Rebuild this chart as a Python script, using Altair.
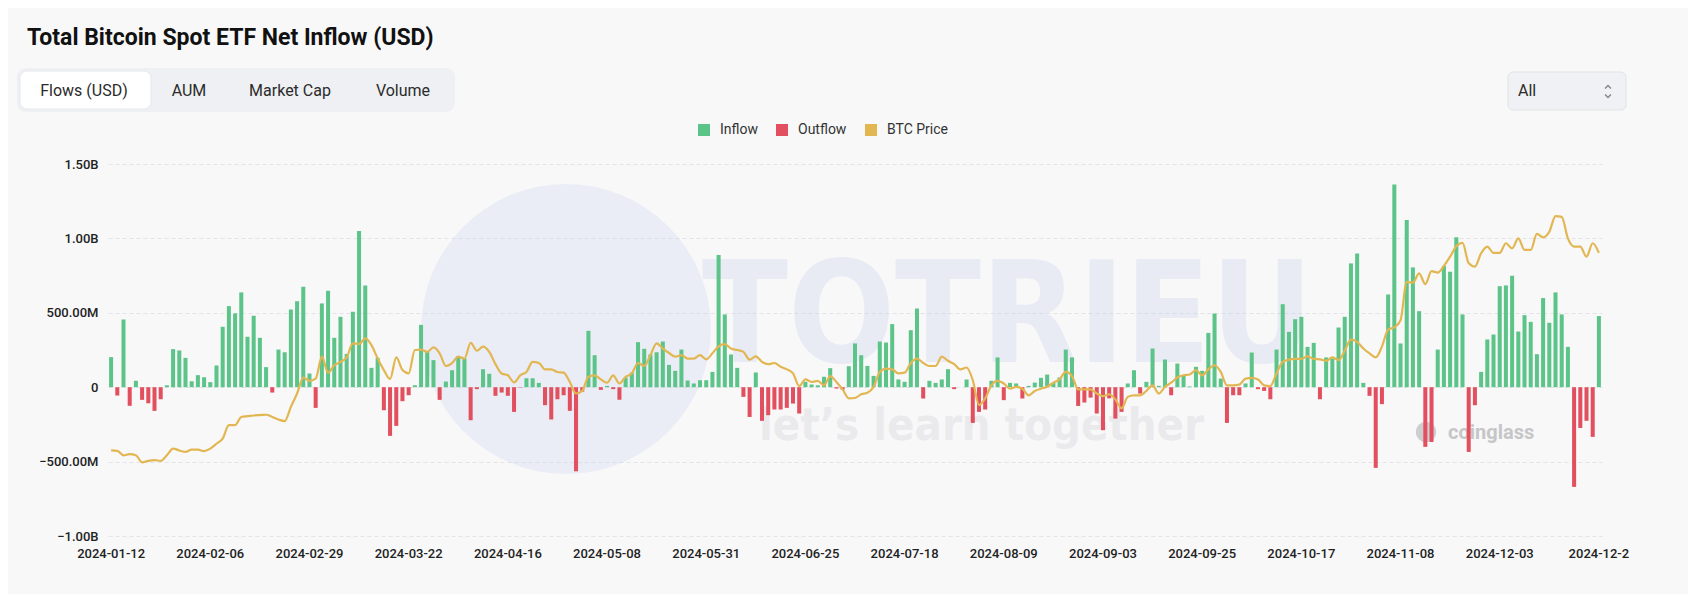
import altair as alt
import numpy as np
import pandas as pd

# ---------------- data ----------------
# daily net flow, million USD, one value per ETF trading day 2024-01-12 .. 2024-12-26
flows_musd = [
    202, -56, 455, -125, 43, -85, -108, -159, -81, 13,
    256, 247, 197, 40, 81, 67, 34, 146, 406, 545,
    496, 637, 339, 480, 332, 135, -36, 253, 235, 522,
    578, 675, 92, -139, 563, 648, 332, 473, 224, 507,
    1049, 684, 130, 197, -155, -327, -260, -94, -54, 13,
    419, 238, 182, -85, 38, 114, 209, 193, -222, -13,
    121, 90, -58, -36, -58, -166, -3, 60, 60, 29,
    -121, -217, -81, -54, -159, -565, -30, 379, 215, -18,
    9, -13, -85, 65, 99, 303, 258, 220, 235, 307,
    150, 110, 253, 45, 25, 47, 47, 103, 888, 489,
    220, 130, -65, -200, 99, -226, -188, -150, -150, -139,
    -110, -177, 36, 18, 13, 70, 128, -9, -16, 141,
    294, 215, 143, 76, 307, 300, 424, 52, 36, 383,
    529, -76, 43, 29, 52, 121, -13, 0, 52, -240,
    -166, -150, 43, 200, -87, 29, 25, -76, 9, 31,
    63, 85, 29, 65, 253, 200, -126, -103, -70, -177,
    -289, -75, -211, -166, 25, 114, -43, 36, 260, 9,
    186, -54, 159, 81, 5, 137, 110, 365, 495, 58,
    -240, -54, -54, 25, 233, -13, -25, -81, 253, 558,
    372, 457, 473, 271, 298, -81, 200, 193, 401, 473,
    832, 899, 29, -58, -542, -114, 623, 1363, 294, 1123,
    805, 511, -401, -368, 253, 816, 776, 1007, 489, -435,
    -121, 103, 321, 354, 679, 684, 749, 374, 484, 439,
    222, 599, 433, 637, 489, 271, -670, -274, -226, -334,
    478,
]

# BTC price, thousand USD, same days
btc_price_k = [
    43.0, 42.9, 41.7, 42.0, 41.7, 39.8, 40.2, 40.4, 40.2, 41.7,
    43.5, 43.0, 42.6, 43.2, 43.2, 42.8, 43.5, 44.8, 46.2, 49.8,
    49.8, 52.0, 52.2, 52.4, 52.5, 52.6, 52.0, 51.3, 50.9, 54.7,
    58.3, 62.6, 61.7, 62.3, 68.2, 63.9, 65.9, 66.8, 68.0, 71.8,
    71.6, 73.1, 71.3, 67.7, 64.6, 62.2, 68.0, 64.6, 63.7, 70.0,
    70.1, 69.5, 70.7, 69.1, 65.7, 66.5, 68.2, 67.7, 71.9, 69.8,
    70.9, 69.5, 66.2, 63.7, 63.2, 61.3, 63.2, 64.1, 66.8, 66.5,
    64.8, 64.8, 64.1, 63.9, 61.4, 58.3, 59.0, 62.8, 63.2, 62.1,
    61.2, 63.2, 61.0, 62.8, 63.7, 66.5, 65.7, 68.6, 71.8, 70.4,
    69.2, 68.2, 68.6, 67.7, 67.7, 68.6, 67.5, 69.1, 71.0, 71.6,
    70.4, 70.0, 69.5, 67.4, 68.3, 66.8, 66.2, 66.5, 65.5, 64.8,
    63.7, 60.3, 62.1, 61.4, 61.7, 60.5, 63.0, 61.4, 59.4, 57.0,
    57.1, 58.1, 58.5, 60.1, 64.1, 65.0, 64.8, 63.7, 63.9, 66.5,
    67.7, 66.5, 65.7, 65.7, 68.2, 67.1, 66.2, 64.8, 65.3, 61.9,
    55.2, 57.0, 60.5, 61.7, 61.0, 59.6, 60.1, 59.6, 57.8, 59.0,
    59.6, 60.1, 61.2, 62.1, 64.1, 63.0, 59.4, 59.4, 59.4, 58.3,
    57.6, 58.1, 56.7, 54.3, 57.4, 57.8, 57.8, 59.0, 60.5, 58.3,
    60.1, 61.2, 62.6, 63.2, 63.4, 64.6, 63.2, 64.8, 65.9, 64.1,
    60.5, 60.5, 60.7, 62.3, 62.5, 62.1, 60.5, 60.3, 63.7, 66.8,
    67.4, 67.6, 67.6, 68.3, 67.6, 67.5, 67.1, 68.0, 67.3, 69.8,
    72.8, 72.2, 70.4, 69.1, 68.0, 70.9, 75.5, 76.1, 78.0, 88.3,
    88.1, 90.6, 87.7, 91.2, 90.8, 92.6, 95.1, 97.9, 98.8, 93.3,
    92.4, 96.0, 97.8, 96.1, 96.1, 98.7, 97.3, 100.0, 96.9, 96.9,
    101.2, 100.3, 101.8, 106.0, 105.8, 100.0, 97.8, 97.8, 95.1, 98.7,
    96.1,
]

market_holidays = ["2024-01-15", "2024-02-19", "2024-03-29", "2024-05-27", "2024-06-19",
                   "2024-07-04", "2024-09-02", "2024-11-28", "2024-12-25"]
dates = pd.bdate_range("2024-01-12", "2024-12-26", freq="C",
                       holidays=market_holidays).strftime("%Y-%m-%d").tolist()

tick_labels = ["2024-01-12", "2024-02-06", "2024-02-29", "2024-03-22", "2024-04-16",
               "2024-05-08", "2024-05-31", "2024-06-25", "2024-07-18", "2024-08-09",
               "2024-09-03", "2024-09-25", "2024-10-17", "2024-11-08", "2024-12-03",
               "2024-12-26"]
y_ticks = [-1000, -500, 0, 500, 1000, 1500]

legend_items = ["Inflow", "Outflow", "BTC Price"]
legend_colors = ["#5cc489", "#e2505f", "#e2b651"]

tabs = ["Flows (USD)", "AUM", "Market Cap", "Volume"]
title_text = "Total Bitcoin Spot ETF Net Inflow (USD)"

n = min(len(dates), len(flows_musd), len(btc_price_k))
df = pd.DataFrame({"date": dates[:n], "flow": flows_musd[:n], "price": btc_price_k[:n]})
df["type"] = np.where(df["flow"] >= 0, "Inflow", "Outflow")

BG = "#f8f8f9"
FONT = "Roboto"
NARROW = "'Liberation Sans Narrow', 'DejaVu Sans Condensed', 'DejaVu Sans', sans-serif"
W, H = 1494, 372

one = pd.DataFrame({"k": [0]})

x_enc = alt.X(
    "date:O",
    sort=None,
    scale=alt.Scale(paddingInner=0.35, paddingOuter=0.175),
    axis=alt.Axis(
        values=tick_labels, labelAngle=0, ticks=False, tickSize=0, domain=False,
        grid=False, title=None, labelPadding=11, labelFontSize=13, labelColor="#222",
        labelFont=FONT, labelFontWeight=500, zindex=1,
        labelExpr="datum.value == '2024-12-26' ? '2024-12-2' : datum.value",
    ),
)

bars = alt.Chart(df).mark_bar().encode(
    x=x_enc,
    y=alt.Y(
        "flow:Q",
        scale=alt.Scale(domain=[-1000, 1500], nice=False),
        axis=alt.Axis(
            values=y_ticks, title=None, ticks=False, tickSize=0, domain=False,
            grid=True, gridDash=[4, 3], gridColor="#e3e4e7", gridWidth=1,
            labelPadding=10, labelFontSize=13, labelColor="#222", labelFont=FONT,
            labelFontWeight=500,
            labelExpr="datum.value == 0 ? '0' : (abs(datum.value) >= 1000 ? "
                      "format(datum.value / 1000, '.2f') + 'B' : format(datum.value, '.2f') + 'M')",
        ),
    ),
    color=alt.Color(
        "type:N",
        scale=alt.Scale(domain=legend_items, range=legend_colors),
        legend=alt.Legend(
            title=None, orient="none", legendX=589, legendY=-41, direction="horizontal",
            symbolType="square", symbolSize=144, symbolStrokeWidth=0, labelFontSize=14,
            labelColor="#333", labelFont=FONT, labelOffset=9, columnPadding=17, padding=0,
        ),
    ),
)

line = alt.Chart(df).mark_line(
    interpolate="monotone", strokeWidth=2.2, color=legend_colors[2]
).encode(
    x=alt.X("date:O", sort=None),
    y=alt.Y("price:Q", scale=alt.Scale(domain=[20, 120], nice=False, zero=False), axis=None),
)

# ---------------- page furniture (frame, header, watermark) ----------------
frame = alt.Chart(one).mark_rect(opacity=0).encode(
    x=alt.value(-100), x2=alt.value(1580), y=alt.value(-156), y2=alt.value(430)
)

disc = alt.Chart(one).mark_point(filled=True, color="#b9c8e6", opacity=0.22, shape="circle").encode(
    x=alt.value(458), y=alt.value(165), size=alt.value(84000)
)

wm_big = alt.Chart(one).mark_text(
    text="TOTRIEU", font=NARROW, fontWeight="bold", fontSize=140,
    color="#b9c8e6", opacity=0.25, align="left", baseline="alphabetic",
).encode(x=alt.value(594), y=alt.value(198))

wm_small = alt.Chart(one).mark_text(
    text="let\u2019s learn together", font=NARROW, fontWeight="bold",
    fontSize=45, color="#d6d6da", opacity=0.4, align="left", baseline="alphabetic",
).encode(x=alt.value(651), y=alt.value(276))

wm_icon = alt.Chart(one).mark_point(filled=True, color="#c9c9cb", opacity=0.9, shape="circle").encode(
    x=alt.value(1318), y=alt.value(268), size=alt.value(420)
)
wm_cg = alt.Chart(one).mark_text(
    text="coinglass", font=FONT, fontWeight="bold", fontSize=20, color="#c6c6c8",
    align="left", baseline="middle",
).encode(x=alt.value(1340), y=alt.value(269))

title = alt.Chart(one).mark_text(
    text=title_text, font=FONT, fontWeight="bold", fontSize=23, color="#111",
    align="left", baseline="alphabetic",
).encode(x=alt.value(-81), y=alt.value(-119))

tab_bg = alt.Chart(one).mark_rect(color="#eef0f3", cornerRadius=9).encode(
    x=alt.value(-91), x2=alt.value(347), y=alt.value(-96), y2=alt.value(-52)
)
tab_sel = alt.Chart(one).mark_rect(color="#ffffff", cornerRadius=7, stroke="#e6e8ec", strokeWidth=1).encode(
    x=alt.value(-88), x2=alt.value(43), y=alt.value(-93), y2=alt.value(-55)
)
tab_layers = []
for label, cx in zip(tabs, [-24, 81, 182, 295]):
    tab_layers.append(
        alt.Chart(one).mark_text(
            text=label, font=FONT, fontSize=16, color="#2b2b2b", align="center", baseline="middle"
        ).encode(x=alt.value(cx), y=alt.value(-73))
    )

dd_box = alt.Chart(one).mark_rect(color="#eff1f4", cornerRadius=5, stroke="#e1e3e7", strokeWidth=1).encode(
    x=alt.value(1400), x2=alt.value(1518), y=alt.value(-92), y2=alt.value(-54)
)
dd_text = alt.Chart(one).mark_text(
    text="All", font=FONT, fontSize=16, color="#2b2b2b", align="left", baseline="middle"
).encode(x=alt.value(1410), y=alt.value(-73))
dd_up = alt.Chart(one).mark_point(
    shape="M-1,0.5L0,-0.5L1,0.5", filled=False, color="#555", strokeWidth=1.3
).encode(x=alt.value(1500), y=alt.value(-77), size=alt.value(34))
dd_down = alt.Chart(one).mark_point(
    shape="M-1,-0.5L0,0.5L1,-0.5", filled=False, color="#555", strokeWidth=1.3
).encode(x=alt.value(1500), y=alt.value(-68), size=alt.value(34))

chart = alt.layer(
    frame, disc, wm_big, wm_small, wm_icon, wm_cg,
    bars, line,
    title, tab_bg, tab_sel, *tab_layers, dd_box, dd_text, dd_up, dd_down,
).resolve_scale(
    y="independent"
).properties(
    width=W, height=H, padding=0, autosize=alt.AutoSizeParams(type="pad"),
).configure(
    background=BG,
).configure_view(
    stroke=None,
)

chart.save("out.html", embed_options={"renderer": "svg", "actions": False})
